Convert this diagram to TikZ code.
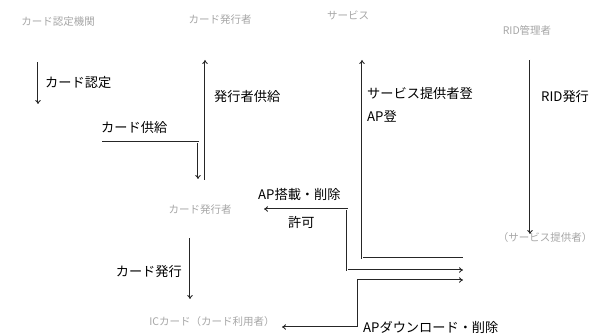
\documentclass[tikz,border=0pt]{standalone}
\usepackage{fontspec}
\setmainfont{Noto Sans CJK JP}
\usetikzlibrary{arrows.meta}
\tikzset{
  lbl/.style={font=\fontsize{13.2}{15}\selectfont, inner sep=0pt, text=black},
  faint/.style={font=\fontsize{10.5}{12}\selectfont, inner sep=0pt, text=black!35},
  dbl/.style={draw=black!85, double=white, line width=0.9pt, double distance=0.9pt},
  tip/.style={-{Implies}},
}
\begin{document}
\begin{tikzpicture}[x=1pt,y=-1pt]
\useasboundingbox (0,0) rectangle (603,336);
% faint entity labels
\node[faint] (nA) at (58,22) {カード認定機関};
\node[faint] (nB) at (220,20) {カード発行者};
\node[faint] (nC) at (348,15) {サービス};
\node[faint] (nD) at (527,30) {RID管理者};
\node[faint] (nE) at (200,210) {カード発行者};
\node[faint] (nF) at (545,238) {（サービス提供者）};
\node[faint] (nG) at (212,322) {ICカード（カード利用者）};
% coordinates
\coordinate (a1s) at (38,62);   \coordinate (a1e) at (38,104);
\coordinate (a2s) at (205,180); \coordinate (a2e) at (205,60);
\coordinate (a3s) at (102,142); \coordinate (a3c) at (198,142); \coordinate (a3e) at (198,179);
\coordinate (a4s) at (530,60);  \coordinate (a4e) at (530,234);
\coordinate (a5s) at (463,258); \coordinate (a5c) at (362,258); \coordinate (a5e) at (362,60);
\coordinate (a6s) at (463,270); \coordinate (a6c1) at (347,270); \coordinate (a6c2) at (347,209); \coordinate (a6e) at (264,209);
\coordinate (a7s) at (463,280); \coordinate (a7c1) at (358,280); \coordinate (a7c2) at (358,327); \coordinate (a7e) at (282,327);
\coordinate (a8s) at (190,238); \coordinate (a8e) at (190,299);
% arrows
\draw[dbl,tip] (a1s) -- (a1e);
\draw[dbl,tip] (a2s) -- (a2e);
\draw[dbl,tip] (a3s) -- (a3c) -- (a3e);
\draw[dbl,tip] (a4s) -- (a4e);
\draw[dbl,tip] (a5s) -- (a5c) -- (a5e);
\draw[dbl,{Implies}-{Implies}] (a6s) -- (a6c1) -- (a6c2) -- (a6e);
\draw[dbl,{Implies}-{Implies}] (a7s) -- (a7c1) -- (a7c2) -- (a7e);
\draw[dbl,tip] (a8s) -- (a8e);
% labels
\node[lbl,anchor=west] (l1) at (45,83) {カード認定};
\node[lbl,anchor=west] (l2) at (214,97) {発行者供給};
\node[lbl,anchor=west] (l3) at (101,128) {カード供給};
\node[lbl,anchor=west] (l4) at (541,97) {RID発行};
\node[lbl,anchor=west] (l5) at (367,93) {サービス提供者登};
\node[lbl,anchor=west] (l6) at (367,116) {AP登};
\node[lbl,anchor=west] (l7) at (258,194) {AP搭載・削除};
\node[lbl,anchor=west] (l8) at (288,222) {許可};
\node[lbl,anchor=east] (l9) at (182,272) {カード発行};
\node[lbl,anchor=west] (l10) at (363,327) {APダウンロード・削除};
\end{tikzpicture}
\end{document}
